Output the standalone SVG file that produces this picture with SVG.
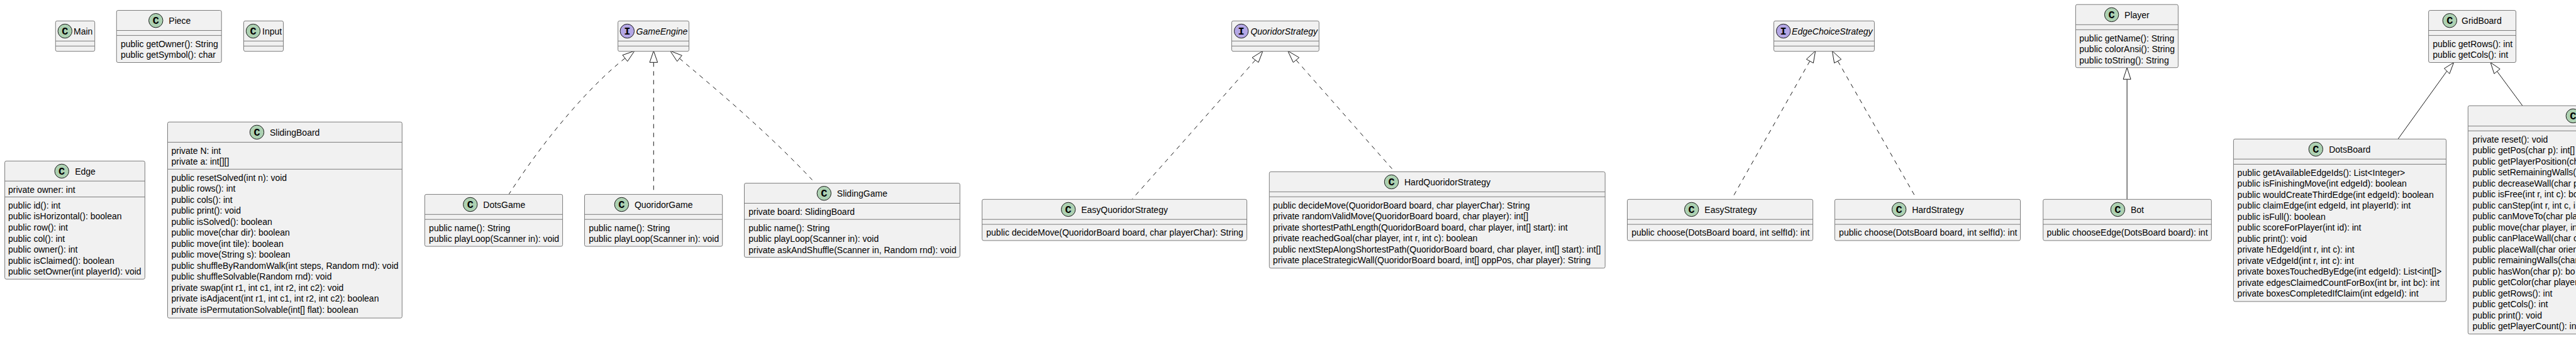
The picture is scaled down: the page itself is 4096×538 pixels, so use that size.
<svg xmlns="http://www.w3.org/2000/svg" width="4096" height="538" viewBox="0 0 4096 538">
<style>
text{font-family:"Liberation Sans",Arial,sans-serif;font-size:14px;fill:#000}
.i{font-style:italic}
.g{font-family:"Liberation Mono",monospace;font-size:17px;font-weight:bold;text-anchor:middle}
.b{fill:#F1F1F1;stroke:#7c7c7c;stroke-width:1}
.s{stroke:#7c7c7c;stroke-width:1}
.c{fill:#ADD1B2;stroke:#181818;stroke-width:1}
.n{fill:#B4A7E5;stroke:#181818;stroke-width:1}
.l{fill:none;stroke:#181818;stroke-width:1}
.d{stroke-dasharray:7 7}
.h{fill:none;stroke:#181818;stroke-width:1}
</style>
<rect width="4096" height="538" fill="#fff"/>
<g id="connectors">
<path class="l d" d="M993.8,92.7 C940,135 870,215 809.4,308.8"/><polygon class="h" points="1009,81 990,87.7 997.7,97.7"/>
<path class="l d" d="M1039.3,99.3 L1039.3,302.6"/><polygon class="h" points="1039.3,81 1033,99.3 1045.6,99.3"/>
<path class="l d" d="M1080.5,93 C1130,135 1215,205 1291.5,286.4"/><polygon class="h" points="1065.7,81 1084.3,88.3 1076.7,97.7"/>
<path class="l d" d="M1996,95.7 C1970,125 1885,222 1800.4,316.6"/><polygon class="h" points="2008,81 1991,91.7 2001,99.3"/>
<path class="l d" d="M2061,95.7 L2213.4,268.6"/><polygon class="h" points="2047.7,81 2065.7,91.7 2056.3,99.3"/>
<path class="l d" d="M2877.7,97.3 L2757.1,310.5"/><polygon class="h" points="2886.7,81 2872.3,94.3 2883.3,100.3"/>
<path class="l d" d="M2922.3,97.3 L3044.6,311.5"/><polygon class="h" points="2913.3,81 2927.7,94.3 2916.7,100.3"/>
<path class="l" d="M3382.1,126.2 L3382.1,317.3"/><polygon class="h" points="3382.1,107.7 3376.1,126.2 3388.1,126.2"/>
<path class="l" d="M3890.7,113.2 L3813.2,221"/><polygon class="h" points="3901.6,99.5 3886.5,109 3894.9,117.3"/>
<path class="l" d="M3970.5,113.6 L4010.8,168.1"/><polygon class="h" points="3960.1,99.5 3975.2,109.8 3965.9,117.3"/>
</g>

<g id="Main"><rect class="b" x="88.3" y="33.3" width="62.4" height="48.4" rx="2.5"/><line class="s" x1="88.3" x2="150.7" y1="65.3" y2="65.3"/><line class="s" x1="88.3" x2="150.7" y1="73.3" y2="73.3"/><ellipse class="c" cx="103.3" cy="49.5" rx="11.2" ry="11.2"/><text class="g" x="103.3" y="55">C</text><text x="117" y="55">Main</text></g>

<g id="Piece"><rect class="b" x="185.3" y="16.5" width="166.9" height="83" rx="2.5"/><line class="s" x1="185.3" x2="352.2" y1="48.5" y2="48.5"/><line class="s" x1="185.3" x2="352.2" y1="56.4" y2="56.4"/><ellipse class="c" cx="247.8" cy="32.7" rx="11.2" ry="11.2"/><text class="g" x="247.8" y="38.2">C</text><text x="268.3" y="38.2">Piece</text>
<g transform="translate(192,56.4)"><text y="18.4">public getOwner(): String</text><text y="35.9">public getSymbol(): char</text></g></g>

<g id="Input"><rect class="b" x="387.5" y="33.3" width="63" height="48.4" rx="2.5"/><line class="s" x1="387.5" x2="450.5" y1="65.3" y2="65.3"/><line class="s" x1="387.5" x2="450.5" y1="73.3" y2="73.3"/><ellipse class="c" cx="402.5" cy="49.5" rx="11.2" ry="11.2"/><text class="g" x="402.5" y="55">C</text><text x="417" y="55">Input</text></g>

<g id="Edge"><rect class="b" x="7.6" y="256.3" width="222.8" height="188" rx="2.5"/><line class="s" x1="7.6" x2="230.4" y1="288.2" y2="288.2"/><line class="s" x1="7.6" x2="230.4" y1="313.5" y2="313.5"/><ellipse class="c" cx="98.2" cy="272.4" rx="11.2" ry="11.2"/><text class="g" x="98.2" y="278">C</text><text x="119.2" y="278">Edge</text>
<g transform="translate(13,288.2)"><text y="18.4">private owner: int</text></g>
<g transform="translate(13,313.5)"><text y="18.4">public id(): int</text><text y="35.9">public isHorizontal(): boolean</text><text y="53.4">public row(): int</text><text y="71">public col(): int</text><text y="88.5">public owner(): int</text><text y="106">public isClaimed(): boolean</text><text y="123.5">public setOwner(int playerId): void</text></g></g>

<g id="SlidingBoard"><rect class="b" x="266.5" y="194.2" width="372.8" height="312" rx="2.5"/><line class="s" x1="266.5" x2="639.3" y1="226.4" y2="226.4"/><line class="s" x1="266.5" x2="639.3" y1="269.3" y2="269.3"/><ellipse class="c" cx="408.5" cy="210.4" rx="11.2" ry="11.2"/><text class="g" x="408.5" y="216">C</text><text x="429" y="216">SlidingBoard</text>
<g transform="translate(272.5,226.4)"><text y="18.4">private N: int</text><text y="35.9">private a: int[][]</text></g>
<g transform="translate(272.5,269.3)"><text y="18.4">public resetSolved(int n): void</text><text y="35.9">public rows(): int</text><text y="53.4">public cols(): int</text><text y="71">public print(): void</text><text y="88.5">public isSolved(): boolean</text><text y="106">public move(char dir): boolean</text><text y="123.5">public move(int tile): boolean</text><text y="141">public move(String s): boolean</text><text y="158.6">public shuffleByRandomWalk(int steps, Random rnd): void</text><text y="176.1">public shuffleSolvable(Random rnd): void</text><text y="193.6">private swap(int r1, int c1, int r2, int c2): void</text><text y="211.1">private isAdjacent(int r1, int c1, int r2, int c2): boolean</text><text y="228.6">private isPermutationSolvable(int[] flat): boolean</text></g></g>

<g id="DotsGame"><rect class="b" x="675.4" y="309.4" width="219.2" height="82.7" rx="2.5"/><line class="s" x1="675.4" x2="894.6" y1="341.3" y2="341.3"/><line class="s" x1="675.4" x2="894.6" y1="349.2" y2="349.2"/><ellipse class="c" cx="747.8" cy="325.5" rx="11.2" ry="11.2"/><text class="g" x="747.8" y="331">C</text><text x="768.3" y="331">DotsGame</text>
<g transform="translate(682.1,349.2)"><text y="18.4">public name(): String</text><text y="35.9">public playLoop(Scanner in): void</text></g></g>

<g id="QuoridorGame"><rect class="b" x="929.5" y="309.4" width="219.2" height="82.7" rx="2.5"/><line class="s" x1="929.5" x2="1148.7" y1="341.3" y2="341.3"/><line class="s" x1="929.5" x2="1148.7" y1="349.2" y2="349.2"/><ellipse class="c" cx="988.4" cy="325.5" rx="11.2" ry="11.2"/><text class="g" x="988.4" y="331">C</text><text x="1008.9" y="331">QuoridorGame</text>
<g transform="translate(936.2,349.2)"><text y="18.4">public name(): String</text><text y="35.9">public playLoop(Scanner in): void</text></g></g>

<g id="SlidingGame"><rect class="b" x="1183.5" y="291.6" width="342.8" height="117.9" rx="2.5"/><line class="s" x1="1183.5" x2="1526.3" y1="323.5" y2="323.5"/><line class="s" x1="1183.5" x2="1526.3" y1="349.2" y2="349.2"/><ellipse class="c" cx="1310.3" cy="307.7" rx="11.2" ry="11.2"/><text class="g" x="1310.3" y="313.2">C</text><text x="1330.8" y="313.2">SlidingGame</text>
<g transform="translate(1190.2,323.5)"><text y="18.4">private board: SlidingBoard</text></g>
<g transform="translate(1190.2,349.2)"><text y="18.4">public name(): String</text><text y="35.9">public playLoop(Scanner in): void</text><text y="53.4">private askAndShuffle(Scanner in, Random rnd): void</text></g></g>

<g id="GameEngine"><rect class="b" x="982.6" y="33.3" width="112.9" height="48.4" rx="2.5"/><line class="s" x1="982.6" x2="1095.5" y1="65.3" y2="65.3"/><line class="s" x1="982.6" x2="1095.5" y1="73.3" y2="73.3"/><ellipse class="n" cx="997.3" cy="49.5" rx="11.2" ry="11.2"/><text class="g" x="997.3" y="55">I</text><text class="i" x="1011.6" y="55">GameEngine</text></g>

<g id="QuoridorStrategy"><rect class="b" x="1958.5" y="33.3" width="138.8" height="48.4" rx="2.5"/><line class="s" x1="1958.5" x2="2097.3" y1="65.3" y2="65.3"/><line class="s" x1="1958.5" x2="2097.3" y1="73.3" y2="73.3"/><ellipse class="n" cx="1973.7" cy="49.5" rx="11.2" ry="11.2"/><text class="g" x="1973.7" y="55">I</text><text class="i" x="1988.4" y="55">QuoridorStrategy</text></g>

<g id="EasyQuoridorStrategy"><rect class="b" x="1561.6" y="317.3" width="421" height="65.6" rx="2.5"/><line class="s" x1="1561.6" x2="1982.6" y1="349.2" y2="349.2"/><line class="s" x1="1561.6" x2="1982.6" y1="357.1" y2="357.1"/><ellipse class="c" cx="1698.7" cy="333.4" rx="11.2" ry="11.2"/><text class="g" x="1698.7" y="339">C</text><text x="1719.2" y="339">EasyQuoridorStrategy</text>
<g transform="translate(1568.3,357.1)"><text y="18.4">public decideMove(QuoridorBoard board, char playerChar): String</text></g></g>

<g id="HardQuoridorStrategy"><rect class="b" x="2018.3" y="273.4" width="533.9" height="153.4" rx="2.5"/><line class="s" x1="2018.3" x2="2552.2" y1="305.3" y2="305.3"/><line class="s" x1="2018.3" x2="2552.2" y1="313.2" y2="313.2"/><ellipse class="c" cx="2212.5" cy="289.5" rx="11.2" ry="11.2"/><text class="g" x="2212.5" y="295">C</text><text x="2233" y="295">HardQuoridorStrategy</text>
<g transform="translate(2024.1,313.2)"><text y="18.4">public decideMove(QuoridorBoard board, char playerChar): String</text><text y="35.9">private randomValidMove(QuoridorBoard board, char player): int[]</text><text y="53.4">private shortestPathLength(QuoridorBoard board, char player, int[] start): int</text><text y="71">private reachedGoal(char player, int r, int c): boolean</text><text y="88.5">public nextStepAlongShortestPath(QuoridorBoard board, char player, int[] start): int[]</text><text y="106">private placeStrategicWall(QuoridorBoard board, int[] oppPos, char player): String</text></g></g>

<g id="EdgeChoiceStrategy"><rect class="b" x="2820.5" y="33.3" width="159.9" height="48.4" rx="2.5"/><line class="s" x1="2820.5" x2="2980.4" y1="65.3" y2="65.3"/><line class="s" x1="2820.5" x2="2980.4" y1="73.3" y2="73.3"/><ellipse class="n" cx="2835.7" cy="49.5" rx="11.2" ry="11.2"/><text class="g" x="2835.7" y="55">I</text><text class="i" x="2849.1" y="55">EdgeChoiceStrategy</text></g>

<g id="EasyStrategy"><rect class="b" x="2587.5" y="317.3" width="295.1" height="65.6" rx="2.5"/><line class="s" x1="2587.5" x2="2882.6" y1="349.2" y2="349.2"/><line class="s" x1="2587.5" x2="2882.6" y1="357.1" y2="357.1"/><ellipse class="c" cx="2689.7" cy="333.4" rx="11.2" ry="11.2"/><text class="g" x="2689.7" y="339">C</text><text x="2710.3" y="339">EasyStrategy</text>
<g transform="translate(2594.2,357.1)"><text y="18.4">public choose(DotsBoard board, int selfId): int</text></g></g>

<g id="HardStrategy"><rect class="b" x="2917.4" y="317.3" width="295.1" height="65.6" rx="2.5"/><line class="s" x1="2917.4" x2="3212.5" y1="349.2" y2="349.2"/><line class="s" x1="2917.4" x2="3212.5" y1="357.1" y2="357.1"/><ellipse class="c" cx="3019.6" cy="333.4" rx="11.2" ry="11.2"/><text class="g" x="3019.6" y="339">C</text><text x="3040.2" y="339">HardStrategy</text>
<g transform="translate(2924.1,357.1)"><text y="18.4">public choose(DotsBoard board, int selfId): int</text></g></g>

<g id="Player"><rect class="b" x="3300.4" y="7.2" width="163" height="100.5" rx="2.5"/><line class="s" x1="3300.4" x2="3463.4" y1="39.3" y2="39.3"/><line class="s" x1="3300.4" x2="3463.4" y1="47.3" y2="47.3"/><ellipse class="c" cx="3357.6" cy="23.4" rx="11.2" ry="11.2"/><text class="g" x="3357.6" y="29">C</text><text x="3378.1" y="29">Player</text>
<g transform="translate(3306.3,47.3)"><text y="18.4">public getName(): String</text><text y="35.9">public colorAnsi(): String</text><text y="53.4">public toString(): String</text></g></g>

<g id="Bot"><rect class="b" x="3248.7" y="317.3" width="267.6" height="65.6" rx="2.5"/><line class="s" x1="3248.7" x2="3516.3" y1="349.2" y2="349.2"/><line class="s" x1="3248.7" x2="3516.3" y1="357.1" y2="357.1"/><ellipse class="c" cx="3367.4" cy="333.4" rx="11.2" ry="11.2"/><text class="g" x="3367.4" y="339">C</text><text x="3387.9" y="339">Bot</text>
<g transform="translate(3254.5,357.1)"><text y="18.4">public chooseEdge(DotsBoard board): int</text></g></g>

<g id="GridBoard"><rect class="b" x="3861.6" y="16.5" width="138.9" height="83" rx="2.5"/><line class="s" x1="3861.6" x2="4000.5" y1="48.5" y2="48.5"/><line class="s" x1="3861.6" x2="4000.5" y1="56.4" y2="56.4"/><ellipse class="c" cx="3895.3" cy="32.7" rx="11.2" ry="11.2"/><text class="g" x="3895.3" y="38.2">C</text><text x="3914" y="38.2">GridBoard</text>
<g transform="translate(3868.3,56.4)"><text y="18.4">public getRows(): int</text><text y="35.9">public getCols(): int</text></g></g>

<g id="DotsBoard"><rect class="b" x="3551.4" y="221.3" width="338.2" height="258.6" rx="2.5"/><line class="s" x1="3551.4" x2="3889.6" y1="253.2" y2="253.2"/><line class="s" x1="3551.4" x2="3889.6" y1="261.4" y2="261.4"/><ellipse class="c" cx="3682.3" cy="237.4" rx="11.2" ry="11.2"/><text class="g" x="3682.3" y="243">C</text><text x="3703.2" y="243">DotsBoard</text>
<g transform="translate(3557.6,261.4)"><text y="18.4">public getAvailableEdgeIds(): List&lt;Integer&gt;</text><text y="35.9">public isFinishingMove(int edgeId): boolean</text><text y="53.4">public wouldCreateThirdEdge(int edgeId): boolean</text><text y="71">public claimEdge(int edgeId, int playerId): int</text><text y="88.5">public isFull(): boolean</text><text y="106">public scoreForPlayer(int id): int</text><text y="123.5">public print(): void</text><text y="141">private hEdgeId(int r, int c): int</text><text y="158.6">private vEdgeId(int r, int c): int</text><text y="176.1">private boxesTouchedByEdge(int edgeId): List&lt;int[]&gt;</text><text y="193.6">private edgesClaimedCountForBox(int br, int bc): int</text><text y="211.1">private boxesCompletedIfClaim(int edgeId): int</text></g></g>

<g id="QuoridorBoard"><rect class="b" x="3924.3" y="168.3" width="190" height="363.4" rx="2.5"/><line class="s" x1="3924.3" x2="4096" y1="200.7" y2="200.7"/><line class="s" x1="3924.3" x2="4096" y1="208.3" y2="208.3"/><ellipse class="c" cx="4091.3" cy="184.5" rx="11.2" ry="11.2"/><text class="g" x="4091.3" y="190">C</text>
<g transform="translate(3931.5,208.3)"><text y="18.4">private reset(): void</text><text y="35.9">public getPos(char p): int[]</text><text y="53.4">public getPlayerPosition(ch</text><text y="71">public setRemainingWalls(</text><text y="88.5">public decreaseWall(char p</text><text y="106">public isFree(int r, int c): bo</text><text y="123.5">public canStep(int r, int c, i</text><text y="141">public canMoveTo(char pla</text><text y="158.6">public move(char player, in</text><text y="176.1">public canPlaceWall(char c</text><text y="193.6">public placeWall(char orien</text><text y="211.1">public remainingWalls(char</text><text y="228.6">public hasWon(char p): bo</text><text y="246.2">public getColor(char player</text><text y="263.7">public getRows(): int</text><text y="281.2">public getCols(): int</text><text y="298.7">public print(): void</text><text y="316.2">public getPlayerCount(): in</text></g></g>
</svg>
